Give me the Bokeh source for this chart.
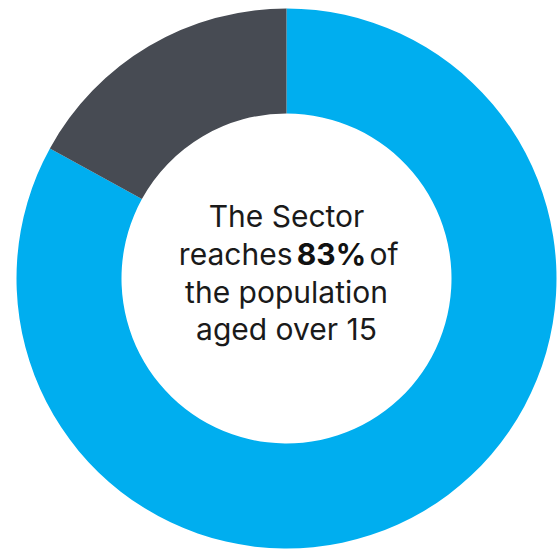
import math
from bokeh.plotting import figure
from bokeh.models import Range1d, ColumnDataSource
from bokeh.core.properties import value
from bokeh.embed import file_html
from bokeh.resources import INLINE

# Data
segments = ["Reached", "Not reached"]
shares = [83, 17]
colors = ["#00AEEF", "#474B53"]

line1 = "The Sector"
line2_pre = "reaches"
line2_bold = "83%"
line2_post = "of"
line3 = "the population"
line4 = "aged over 15"

W, H = 560, 550
cx, cy = 286, 272
r_out, r_in = 270, 165

total = sum(shares)
starts, ends = [], []
cum = 0
for s in shares:
    a0 = cum / total
    cum += s
    a1 = cum / total
    # clockwise from 12 o'clock
    starts.append(math.pi / 2 - a1 * 2 * math.pi)
    ends.append(math.pi / 2 - a0 * 2 * math.pi)

src = ColumnDataSource(dict(x=[cx] * len(shares), y=[cy] * len(shares),
                            start=starts, end=ends, color=colors, name=segments))

p = figure(width=W, height=H, x_range=Range1d(0, W), y_range=Range1d(0, H),
           output_backend="svg", toolbar_location=None, min_border=0)
p.axis.visible = False
p.grid.visible = False
p.outline_line_color = None
p.background_fill_color = "white"
p.border_fill_color = "white"

p.annular_wedge(x="x", y="y", inner_radius=r_in, outer_radius=r_out,
                start_angle="start", end_angle="end", color="color",
                line_color=None, direction="anticlock", source=src)

font = value("Inter")
tc = "#1a1a1a"
fs = "30px"
dy = 10
p.text(x=[cx], y=[325 + dy], text=[line1], text_font=font, text_font_size=fs,
       text_align="center", text_baseline="alphabetic", text_color=tc)
p.text(x=[292], y=[287 + dy], text=[line2_pre], text_font=font, text_font_size=fs,
       text_align="right", text_baseline="alphabetic", text_color=tc)
p.text(x=[331], y=[287 + dy], text=[line2_bold], text_font=font, text_font_size=fs,
       text_font_style="bold", text_align="center", text_baseline="alphabetic", text_color="#111111")
p.text(x=[369], y=[287 + dy], text=[line2_post], text_font=font, text_font_size=fs,
       text_align="left", text_baseline="alphabetic", text_color=tc)
p.text(x=[cx], y=[249 + dy], text=[line3], text_font=font, text_font_size=fs,
       text_align="center", text_baseline="alphabetic", text_color=tc)
p.text(x=[cx], y=[212 + dy], text=[line4], text_font=font, text_font_size=fs,
       text_align="center", text_baseline="alphabetic", text_color=tc)

open("out.html", "w").write(file_html(p, INLINE))
